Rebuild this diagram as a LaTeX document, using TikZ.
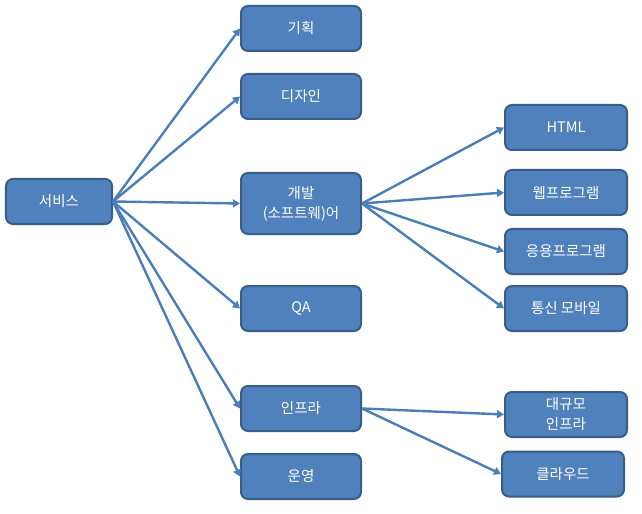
\documentclass[tikz,border=0pt]{standalone}
\usepackage{fontspec}
\setmainfont{Noto Sans CJK KR}
\usepackage{xcolor}
\usetikzlibrary{positioning,calc,arrows.meta}
\definecolor{boxfill}{HTML}{4F81BD}
\definecolor{boxline}{HTML}{385D8A}
\definecolor{linkcol}{HTML}{4A7EBB}
\tikzset{
  item/.style={draw=boxline, line width=2bp, fill=boxfill, rounded corners=7bp,
    text=white, align=center, font=\fontsize{14.5bp}{20bp}\selectfont,
    minimum width=120bp, minimum height=45bp, inner sep=1bp},
  link/.style={linkcol, line width=2.4bp, -{Triangle[length=7bp,width=8bp]}}
}
\begin{document}
\begin{tikzpicture}[x=1bp,y=-1bp]
    \useasboundingbox (0,0) rectangle (642,514);
    % root
    \node [item, minimum width=106bp] (svc) at (59, 201.5) {서비스};

    % first level
    \node [item] (plan) at (301, 28.5) {기획};
    \node [item] (design) at (301, 96.5) {디자인};
    \node [item, minimum height=61bp] (dev) at (301, 203.5) {개발\\(소프트웨)어};
    \node [item] (qa) at (301, 308.5) {QA};
    \node [item] (infra) at (301, 408.5) {인프라};
    \node [item] (ops) at (301, 476.5) {운영};
    \foreach \t in {plan, design, dev, qa, infra, ops} \draw [link] (svc.east) -- (\t.west);

    % development branch
    \node [item, minimum width=122bp] (html) at (566, 127.5) {HTML};
    \node [item, minimum width=122bp] (web) at (566, 192.5) {웹프로그램};
    \node [item, minimum width=122bp] (app) at (566, 251.5) {응용프로그램};
    \node [item, minimum width=122bp] (mobile) at (566, 308.5) {통신 모바일};
    \foreach \t in {html, web, app, mobile} \draw [link] (dev.east) -- (\t.west);

    % infrastructure branch
    \node [item, minimum width=122bp] (large) at (566, 414.5) {대규모\\인프라};
    \node [item, minimum width=122bp] (cloud) at (563, 474) {클라우드};
    \foreach \t in {large, cloud} \draw [link] (infra.east) -- (\t.west);
\end{tikzpicture}
\end{document}
